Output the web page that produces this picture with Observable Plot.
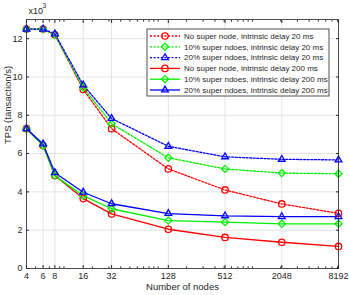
<!DOCTYPE html>
<html>
<head>
<meta charset="utf-8">
<script src="https://cdn.jsdelivr.net/npm/d3@7"></script>
<script src="https://cdn.jsdelivr.net/npm/@observablehq/plot@0.6"></script>
<style>
html,body{margin:0;padding:0;background:#fff;}
#chart{width:349px;height:295px;position:relative;}
svg{font-family:"Liberation Sans",Arial,sans-serif;}
</style>
</head>
<body>
<div id="chart"></div>
<script>
const nodes = [4, 6, 8, 16, 32, 128, 512, 2048, 8192];
const xTicks = [4, 6, 8, 16, 32, 128, 512, 2048, 8192];
const xMinor = [5, 7, 9, 10, 20, 30, 40, 50, 60, 70, 80, 90, 100, 200, 300, 400, 500, 600, 700, 800, 900, 1000, 2000, 3000, 4000, 5000, 6000, 7000, 8000];
const yTicks = [0, 2, 4, 6, 8, 10, 12];

const noSuper20   = [12.5, 12.5, 12.2, 9.35, 7.3, 5.2, 4.1, 3.37, 2.88];
const super10_20  = [12.5, 12.5, 12.2, 9.45, 7.56, 5.78, 5.2, 4.98, 4.95];
const super20_20  = [12.5, 12.5, 12.25, 9.58, 7.83, 6.38, 5.83, 5.7, 5.67];
const noSuper200  = [7.3, 6.42, 4.85, 3.65, 2.85, 2.05, 1.62, 1.37, 1.15];
const super10_200 = [7.3, 6.42, 4.85, 3.8, 3.12, 2.5, 2.42, 2.33, 2.33];
const super20_200 = [7.3, 6.5, 5.0, 3.98, 3.38, 2.87, 2.75, 2.71, 2.71];

const seriesNames = [
  "No super node, intrinsic delay 20 ms",
  "10% super ndoes, intrinsic delay 20 ms",
  "20% super ndoes, intrinsic delay 20 ms",
  "No super node, intrinsic delay 200 ms",
  "10% super ndoes, intrinsic delay 200 ms",
  "20% super ndoes, intrinsic delay 200 ms"
];
const seriesValues = [noSuper20, super10_20, super20_20, noSuper200, super10_200, super20_200];
const seriesColors = ["#ff0000", "#00f000", "#0000ff", "#ff0000", "#00f000", "#0000ff"];
const seriesSymbols = ["circle", "diamond2", "triangle2", "circle", "diamond2", "triangle2"];
const seriesDash = ["2,1.6", "2,1.6", "2,1.6", null, null, null];

const series = seriesNames.map((name, i) => ({
  name, color: seriesColors[i], symbol: seriesSymbols[i], dash: seriesDash[i],
  data: nodes.map((n, j) => ({n, v: seriesValues[i][j]}))
}));

const axisColor = "#262626";
const font = "\"Liberation Sans\", Arial, sans-serif";

const marks = [
  Plot.gridX(xTicks, {stroke: "#e3e3e3", strokeOpacity: 1}),
  Plot.gridY(yTicks, {stroke: "#e3e3e3", strokeOpacity: 1}),
];
for (const s of series) {
  marks.push(Plot.line(s.data, {x: "n", y: "v", stroke: s.color, strokeWidth: 1.3, strokeDasharray: s.dash}));
}
for (const s of series) {
  marks.push(Plot.dot(s.data, {x: "n", y: "v", stroke: s.color, fill: "white", fillOpacity: 0, symbol: s.symbol, r: 3.2, strokeWidth: 1.3}));
}
marks.push(
  Plot.frame({stroke: axisColor, strokeWidth: 0.8}),
  Plot.axisX(xTicks, {anchor: "bottom", tickSize: -3, text: null, label: null, stroke: axisColor}),
  Plot.axisX(xMinor, {anchor: "bottom", tickSize: -1.6, text: null, label: null, stroke: axisColor}),
  Plot.axisX(xTicks, {anchor: "top", tickSize: -3, text: null, label: null, stroke: axisColor}),
  Plot.axisX(xMinor, {anchor: "top", tickSize: -1.6, text: null, label: null, stroke: axisColor}),
  Plot.axisX(xTicks, {anchor: "bottom", tickSize: 0, tickPadding: 4, label: null, tickFormat: d => String(d), fontSize: 9, fill: axisColor}),
  Plot.axisY(yTicks, {anchor: "left", tickSize: -3, text: null, label: null, stroke: axisColor}),
  Plot.axisY(yTicks, {anchor: "right", tickSize: -3, text: null, label: null, stroke: axisColor}),
  Plot.axisY(yTicks, {anchor: "left", tickSize: 0, tickPadding: 4, label: null, fontSize: 9, fill: axisColor}),
  Plot.text(["TPS (tansaction/s)"], {frameAnchor: "left", rotate: -90, dx: -19, fontSize: 9.5, fill: axisColor}),
  Plot.text(["Number of nodes"], {frameAnchor: "bottom", dy: 21, fontSize: 9.5, fill: axisColor}),
  Plot.text(["x10"], {frameAnchor: "top-left", textAnchor: "start", dx: 2, dy: -12, fontSize: 9, fill: axisColor}),
  Plot.text(["3"], {frameAnchor: "top-left", textAnchor: "start", dx: 16, dy: -16, fontSize: 6.5, fill: axisColor})
);

const chart = Plot.plot({
  width: 349, height: 295,
  marginLeft: 26, marginRight: 11, marginTop: 19, marginBottom: 27,
  style: {fontFamily: font, background: "white"},
  x: {type: "log", base: 2, domain: [4, 8192]},
  y: {domain: [0, 13]},
  marks
});
document.getElementById("chart").appendChild(chart);

// Legend (drawn inside the SVG with d3)
const svg = d3.select(chart);
const lg = svg.append("g").attr("transform", "translate(147,29)");
const rowH = 10.8, boxW = 182, boxH = 67;
lg.append("rect").attr("x", 0).attr("y", 0).attr("width", boxW).attr("height", boxH)
  .attr("fill", "white").attr("stroke", "#262626").attr("stroke-width", 0.8);
series.forEach((s, i) => {
  const cy = 7 + i * rowH;
  lg.append("line").attr("x1", 3).attr("x2", 33).attr("y1", cy).attr("y2", cy)
    .attr("stroke", s.color).attr("stroke-width", 1.3).attr("stroke-dasharray", s.dash);
  const sym = {circle: d3.symbolCircle, diamond2: d3.symbolDiamond2, triangle2: d3.symbolTriangle2}[s.symbol];
  lg.append("path").attr("d", d3.symbol(sym, Math.PI * 3.2 * 3.2)())
    .attr("transform", `translate(18,${cy})`)
    .attr("fill", "none").attr("stroke", s.color).attr("stroke-width", 1.3);
  lg.append("text").attr("x", 37).attr("y", cy).attr("dy", "0.35em")
    .attr("text-anchor", "start")
    .attr("font-size", 8).attr("fill", "#262626").text(s.name);
});
</script>
</body>
</html>
